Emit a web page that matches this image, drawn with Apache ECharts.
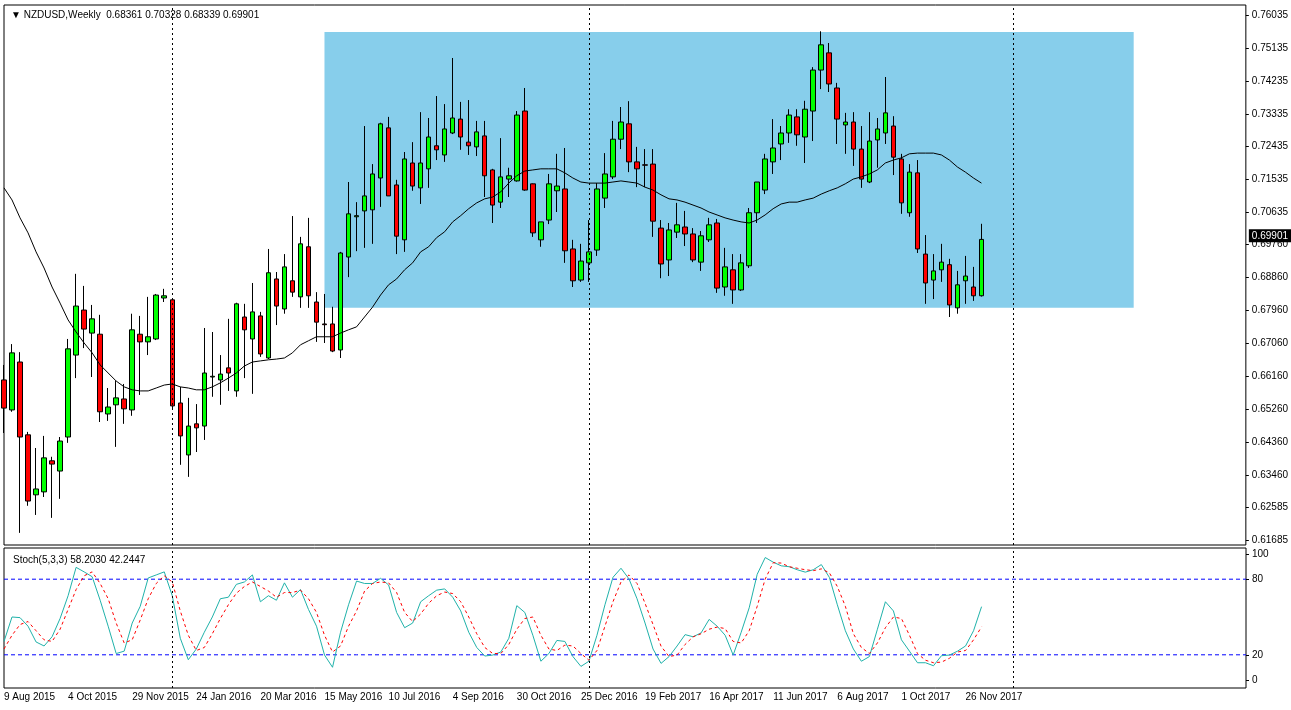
<!DOCTYPE html>
<html>
<head>
<meta charset="utf-8">
<script src="https://cdn.jsdelivr.net/npm/echarts@6/dist/echarts.min.js"></script>
<style>
html, body { margin: 0; padding: 0; background: #fff; }
#chart { width: 1291px; height: 710px; }
</style>
</head>
<body>
<div id="chart"></div>
<script>
// weekly NZDUSD, first bar = 9 Aug 2015
var opens = [.6606,.6524,.6655,.6456,.6292,.6300,.6385,.6357,.6450,.6674,
    .6797,.6734,.6731,.6513,.6538,.6554,.6524,.6731,.6710,.6718,
    .6830,.6825,.6543,.6401,.6486,.6480,.6614,.6606,.6639,.6576,
    .6778,.6718,.6781,.6666,.6882,.6800,.6877,.6833,.6970,.6819,
    .6759,.6759,.6688,.6942,.7052,.7068,.7071,.7158,.7295,.7139,
    .6989,.7199,.7131,.7183,.7246,.7221,.7281,.7319,.7256,.7243,
    .7273,.7180,.7092,.7155,.7150,.7341,.7142,.6989,.7043,.7123,
    .7128,.6964,.6879,.6926,.6961,.7103,.7161,.7264,.7306,.7202,
    .7194,.7196,.7021,.6934,.7010,.7024,.7005,.6928,.6989,.7035,
    .6860,.6907,.6852,.6918,.7063,.7125,.7202,.7251,.7281,.7325,
    .7270,.7341,.7453,.7500,.7404,.7303,.7311,.7237,.7147,.7262,
    .7281,.7300,.7210,.7063,.7172,.6950,.6879,.6907,.6921,.6803,
    .6877,.6860,.68361];
var closes = [.6529,.6680,.6450,.6275,.6308,.6393,.6376,.6439,.6691,.6808,
    .6745,.6773,.6519,.6532,.6557,.6527,.6743,.6710,.6724,.6838,
    .6836,.6535,.6453,.6480,.6475,.6625,.6616,.6622,.6625,.6814,
    .6743,.6792,.6677,.6899,.6808,.6915,.6846,.6978,.6836,.6764,
    .6757,.6685,.6953,.7060,.7055,.7109,.7169,.7306,.7109,.6999,
    .7210,.7136,.7199,.7270,.7235,.7292,.7322,.7270,.7246,.7284,
    .7164,.7084,.7161,.7164,.7330,.7125,.7008,.7038,.7142,.7136,
    .6959,.6877,.6931,.6956,.7128,.7169,.7264,.7311,.7202,.7183,
    .7193,.7040,.6923,.7016,.7030,.7005,.6934,.7000,.7030,.6857,
    .6915,.6852,.6926,.7063,.7147,.7210,.7240,.7281,.7330,.7276,
    .7346,.7453,.7522,.7415,.7319,.7311,.7237,.7155,.7259,.7292,
    .7336,.7215,.7090,.7174,.6964,.6871,.6904,.6928,.6811,.6866,
    .6890,.6836,.69901];
var lows = [.6461,.6519,.6188,.6262,.6237,.6286,.6229,.6281,.6434,.6611,
    .6693,.6614,.6491,.6494,.6423,.6486,.6508,.6565,.6674,.6715,
    .6819,.6529,.6374,.6341,.6409,.6442,.6560,.6538,.6576,.6560,
    .6611,.6568,.6669,.6663,.6756,.6787,.6833,.6803,.6803,.6710,
    .6707,.6682,.6666,.6887,.6958,.6967,.6978,.7079,.7109,.6950,
    .6956,.7123,.7087,.7131,.7207,.7202,.7278,.7235,.7221,.7218,
    .7106,.7035,.7076,.7106,.7148,.7123,.6997,.6970,.7032,.7065,
    .6926,.6860,.6874,.6874,.6945,.7076,.7155,.7237,.7174,.7133,
    .7133,.6997,.6884,.6890,.6994,.6972,.6928,.6904,.6983,.6844,
    .6836,.6814,.6849,.6912,.7035,.7114,.7169,.7207,.7254,.7246,
    .7199,.7259,.7401,.7393,.7251,.7224,.7191,.7131,.7144,.7186,
    .7251,.7166,.7060,.7052,.6953,.6814,.6827,.6874,.6778,.6787,
    .6814,.6822,.68339];
var highs = [.6647,.6704,.6682,.6464,.6420,.6453,.6396,.6450,.6718,.6896,
    .6863,.6811,.6784,.6584,.6603,.6595,.6787,.6781,.6833,.6841,
    .6855,.6826,.6587,.6557,.6540,.6748,.6737,.6674,.6773,.6817,
    .6814,.6871,.6792,.6964,.6901,.6950,.7054,.6997,.7049,.6846,
    .6841,.6806,.6956,.7147,.7092,.7300,.7196,.7309,.7325,.7153,
    .7229,.7256,.7338,.7322,.7382,.7360,.7486,.7366,.7371,.7314,
    .7314,.7183,.7267,.7186,.7341,.7404,.7143,.7038,.7169,.7224,
    .7240,.6989,.6978,.7043,.7144,.7226,.7314,.7352,.7368,.7243,
    .7237,.7237,.7043,.7035,.7090,.7068,.7021,.7013,.7049,.7046,
    .6967,.6950,.6950,.7076,.7147,.7224,.7319,.7300,.7346,.7346,
    .7369,.7461,.7559,.7527,.7418,.7336,.7338,.7300,.7338,.7322,
    .7434,.7327,.7224,.7196,.7207,.7002,.6950,.6978,.6937,.6904,
    .6945,.6915,.70328];
var maValues = [.7131,.7098,.7049,.7008,.6956,.6912,.6860,.6816,.6770,.6737,
    .6707,.6680,.6647,.6625,.6603,.6587,.6579,.6576,.6576,.6584,
    .6592,.6595,.6587,.6584,.6579,.6579,.6587,.6598,.6611,.6625,
    .6644,.6655,.6658,.6661,.6663,.6666,.6680,.6702,.6713,.6724,
    .6724,.6724,.6734,.6743,.6751,.6778,.6805,.6838,.6866,.6882,
    .6907,.6926,.6956,.6970,.6995,.7011,.7038,.7055,.7074,.7090,
    .7101,.7106,.7120,.7144,.7164,.7177,.7180,.7183,.7183,.7183,
    .7172,.7158,.7147,.7144,.7144,.7144,.7147,.7150,.7147,.7144,
    .7133,.7125,.7112,.7101,.7098,.7092,.7084,.7076,.7065,.7057,
    .7049,.7043,.7038,.7035,.7043,.7057,.7074,.7087,.7092,.7092,
    .7098,.7103,.7114,.7123,.7131,.7142,.7155,.7161,.7169,.7180,
    .7199,.7207,.7213,.7224,.7226,.7226,.7226,.7221,.7207,.7188,
    .7174,.7158,.7144];
var stochK = [30.6,50,49.5,42.7,30.2,27,34.3,48.8,66.9,89.4,
    85.8,82,63.3,42.7,21,22.9,45.2,58.5,81,83.4,
    85.8,66.9,33.1,16.1,24.6,37.9,50,64.5,65.7,75.9,
    77.8,83.4,62.1,66.9,63.3,77.1,65.7,71.8,56,42.7,
    19.8,10.1,37.9,59.7,78.5,76.6,76.6,80.7,75.4,53.6,
    41.5,45.2,62.1,66.9,71.3,72.3,65.7,54.8,37.9,25.8,
    19,19.8,22.2,33.1,59,53.6,35.5,14.9,21,31.4,
    30.6,18.6,10.8,14.9,35.5,59.7,81.5,88.7,80.2,64.5,
    45.2,24.6,13.2,18.6,27,36,34.3,37.4,48.1,42.7,
    35.5,19.8,37.9,57.3,83.9,97.2,93.5,90.6,89.9,87.5,
    85.6,87.5,91.6,81.5,59.7,39.1,24.6,14.9,18.6,40.3,
    62.1,54.8,31.9,22.9,13.7,13.7,11.3,19.3,19.8,22.9,
    27,39.1,58.2];
var stochD = [24.6,35.5,44,46.4,39.1,31.9,30.6,40.3,56,71.8,
    82.7,85.8,76.6,64.5,45.2,29.4,31.9,47.6,64.5,76.6,
    82.7,77.8,54.8,35.5,23.4,25.8,36.7,48.8,59.7,68.9,
    74.2,77.8,74.2,70.6,65.7,69.4,69.4,71.3,64.5,53.6,
    35.5,22.2,27,42.7,54.8,70.6,76.6,77.8,77.1,69.4,
    53.6,46.4,52.4,60.9,66.9,69.8,68.6,62.1,50,36.7,
    25.8,21,21,28.2,40.3,48.8,50,35.5,24.6,23.4,
    27.7,27,21,15.7,23.4,42.7,62.1,77.8,83.4,76.6,
    60.9,44,26.8,18.6,19.8,28.2,34.3,36.7,40.3,42,
    40.8,30.6,29.4,39.1,58.5,80.2,93.1,92.8,89.9,88.7,
    87.5,86.8,88.2,85.1,74.2,58.5,36.7,25.8,21,29.4,
    41.5,50,48.8,35.5,21,15.7,13.7,14.2,17.3,22.2,
    23.4,31.9,42.2];
var dateLabels = ['9 Aug 2015', '4 Oct 2015', '29 Nov 2015', '24 Jan 2016', '20 Mar 2016', '15 May 2016',
    '10 Jul 2016', '4 Sep 2016', '30 Oct 2016', '25 Dec 2016', '19 Feb 2017', '16 Apr 2017',
    '11 Jun 2017', '6 Aug 2017', '1 Oct 2017', '26 Nov 2017'];
var priceTicks = [0.61685, 0.62585, 0.63460, 0.64360, 0.65260, 0.66160, 0.67060, 0.67960, 0.68860,
    0.69760, 0.70635, 0.71535, 0.72435, 0.73335, 0.74235, 0.75135, 0.76035];
var stochTicks = [0, 20, 80, 100];
var stochLevels = [80, 20];
var yearBreaks = [21, 73, 126];          // bars at new year (dotted separators)
var boxRange = [40, 141, 0.6803, 0.7557]; // blue box: from bar, to bar, low, high
var lastClose = 0.69901;

var totalBars = 156; // includes empty future weeks on the right
var cats = [];
for (var i = 0; i < totalBars; i++) cats.push(i);
var candles = [];
for (var j = 0; j < opens.length; j++) candles.push([opens[j], closes[j], lows[j], highs[j]]);

var font = 'Liberation Sans';
var chart = echarts.init(document.getElementById('chart'));

// empty helper series that only carry a markLine
var lineHolder = function(grid, items, style, label) {
    return {
        type: 'line', xAxisIndex: grid, yAxisIndex: grid, data: [], symbol: 'none',
        markLine: {
            silent: true, symbol: 'none', animation: false,
            lineStyle: style,
            label: label || { show: false },
            data: items
        }
    };
};
var sepStyle = { color: '#000000', type: [2, 3], width: 1 };
var sepItems = function() { return yearBreaks.map(function(b) { return { xAxis: b }; }); };

// stochastic 80/20 levels as flat reference lines across the panel
var levelSeries = stochLevels.map(function(lv) {
    return {
        type: 'line', xAxisIndex: 1, yAxisIndex: 1, symbol: 'none', silent: true,
        data: cats.map(function() { return lv; }),
        lineStyle: { color: '#0000ff', width: 1, type: [4, 3] }, z: 1
    };
});

chart.setOption({
    animation: false,
    backgroundColor: '#fff',
    textStyle: { fontFamily: font },
    title: [{
        text: '▼ NZDUSD,Weekly  0.68361 0.70328 0.68339 0.69901',
        left: 6, top: 5,
        textStyle: { fontSize: 10, fontWeight: 'normal', color: '#000', fontFamily: font }
    }, {
        text: 'Stoch(5,3,3) 58.2030 42.2447',
        left: 8, top: 550,
        textStyle: { fontSize: 10, fontWeight: 'normal', color: '#000', fontFamily: font }
    }],
    grid: [
        { left: 4, right: 45, top: 5, bottom: 165, show: true, borderColor: '#000', borderWidth: 1, backgroundColor: '#fff' },
        { left: 4, right: 45, top: 548, bottom: 22, show: true, borderColor: '#000', borderWidth: 1, backgroundColor: '#fff' }
    ],
    xAxis: [{
        type: 'category', gridIndex: 0, data: cats, boundaryGap: false,
        axisLine: { show: false }, axisTick: { show: false }, axisLabel: { show: false }, splitLine: { show: false }
    }, {
        type: 'category', gridIndex: 1, data: cats, boundaryGap: false,
        axisLine: { show: false },
        axisTick: { show: false },
        axisLabel: {
            interval: 0, margin: 4, align: 'left', color: '#000', fontSize: 10,
            formatter: function(v, idx) { return (idx % 8 === 0 && dateLabels[idx / 8]) ? dateLabels[idx / 8] : ''; }
        },
        splitLine: { show: false }
    }],
    yAxis: [{
        type: 'value', gridIndex: 0, position: 'right', scale: true,
        min: 0.615483, max: 0.763083,
        axisLine: { show: false },
        axisTick: { show: true, customValues: priceTicks, length: 3, lineStyle: { color: '#000' } },
        axisLabel: {
            customValues: priceTicks, color: '#000', fontSize: 10, margin: 6,
            formatter: function(v) { return v.toFixed(5); }
        },
        splitLine: { show: false }
    }, {
        type: 'value', gridIndex: 1, position: 'right',
        min: -6.35, max: 104.76,
        axisLine: { show: false },
        axisTick: { show: true, customValues: stochTicks, length: 3, lineStyle: { color: '#000' } },
        axisLabel: { customValues: stochTicks, color: '#000', fontSize: 10, margin: 6 },
        splitLine: { show: false }
    }],
    series: [{
        type: 'candlestick', xAxisIndex: 0, yAxisIndex: 0,
        data: candles, barWidth: 5,
        itemStyle: { color: '#00ff00', color0: '#ff0000', borderColor: '#000', borderColor0: '#000', borderWidth: 1 },
        markArea: {
            silent: true,
            itemStyle: { color: '#87ceeb' },
            data: [[{ xAxis: boxRange[0], yAxis: boxRange[2] }, { xAxis: boxRange[1], yAxis: boxRange[3] }]]
        },
        z: 3
    }, {
        type: 'line', xAxisIndex: 0, yAxisIndex: 0,
        data: maValues, symbol: 'none', smooth: false,
        lineStyle: { color: '#000', width: 1 }, z: 4
    },
    lineHolder(0, sepItems(), sepStyle),
    lineHolder(0, [{ yAxis: lastClose }], { color: 'rgba(0,0,0,0)', width: 1 }, {
        show: true, position: 'end', distance: 3, formatter: lastClose.toFixed(5),
        color: '#fff', backgroundColor: '#000', padding: [2, 3, 1, 3], fontSize: 10, fontFamily: font
    }),
    levelSeries[0], levelSeries[1],
    {
        type: 'line', xAxisIndex: 1, yAxisIndex: 1,
        data: stochK, symbol: 'none',
        lineStyle: { color: '#20b2aa', width: 1 }
    }, {
        type: 'line', xAxisIndex: 1, yAxisIndex: 1,
        data: stochD, symbol: 'none',
        lineStyle: { color: '#ff0000', width: 1, type: [3, 3] }
    },
    lineHolder(1, sepItems(), sepStyle)
    ]
});
</script>
</body>
</html>
